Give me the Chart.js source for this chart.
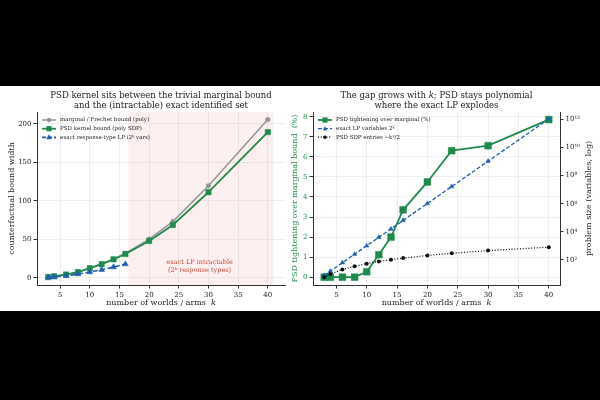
<!DOCTYPE html>
<html>
<head>
<meta charset="utf-8">
<script src="https://cdn.jsdelivr.net/npm/chart.js@4.4.1/dist/chart.umd.min.js"></script>
<style>
  html, body { margin: 0; padding: 0; background: #000; }
  #page { position: relative; width: 600px; height: 400px; background: #000; overflow: hidden; }
  #sheet { position: absolute; left: 0; top: 86px; width: 600px; height: 225px; background: #fff; }
  canvas { position: absolute; left: 0; top: 0; }
</style>
</head>
<body>
<div id="page">
  <div id="sheet"></div>
  <canvas id="left" width="600" height="400"></canvas>
  <canvas id="right" width="600" height="400"></canvas>
</div>
<script>
const SERIF = "'DejaVu Serif', 'Liberation Serif', serif";
const INK = "#222222";
const GREEN = "#1f8a4c";
const BLUE = "#1f5fae";
const GREY = "#959595";
const SPINE = "#333333";
const GRID = "#ebebeb";
const NOTE = "#c8463c";

// data
const kValues = [3, 4, 6, 8, 10, 12, 14, 16, 20, 24, 30, 40];
const marginalWidth = [1, 2, 4.3, 7.4, 12.6, 17.9, 24.5, 31.8, 50.2, 73, 119.5, 205.5];
const psdWidth = [1, 2, 4.3, 7.4, 12.5, 17.7, 24, 30.9, 47.9, 68.6, 111.2, 189.2];
const exactK = [3, 4, 6, 8, 10, 12, 14, 16];
const exactWidth = [0.6, 1.2, 2.6, 5, 7.4, 10.4, 13.9, 17.8];

const tightening = [0, 0, 0, 0, 0.27, 1.12, 2.0, 3.36, 4.75, 6.31, 6.56, 7.86];
const lpVariables = [8, 16, 64, 256, 1024, 4096, 16384, 65536, 1048576, 16777216, 1073741824, 1099511627776];
const sdpEntries = [6, 10, 21, 36, 55, 78, 105, 136, 210, 300, 465, 820];

const xTicks = [5, 10, 15, 20, 25, 30, 35, 40];
const widthTicks = [0, 50, 100, 150, 200];
const pctTicks = [0, 1, 2, 3, 4, 5, 6, 7, 8];
const sizeTicks = [1e2, 1e4, 1e6, 1e8, 1e10, 1e12];
const sizeTickLabels = ["10\u00b2", "10\u2074", "10\u2076", "10\u2078", "10\u00b9\u2070", "10\u00b9\u00b2"];
const intractableSpan = [16.5, 41];

function pts(xs, ys) {
  return xs.map((x, i) => ({ x: x, y: ys[i] }));
}

function fixTicks(list) {
  return function (scale) {
    scale.ticks = list.map((v) => ({ value: v }));
  };
}

function axisStyle(color) {
  return {
    border: { display: true, color: SPINE, width: 1 },
    grid: { color: GRID, lineWidth: 0.8, drawTicks: true, tickLength: 3.5, tickColor: SPINE, tickWidth: 1 },
    ticks: { color: color, font: { family: SERIF, size: 7 }, padding: 2, maxRotation: 0, autoSkip: false },
  };
}

// text with italic pieces, centred on (cx, cy)
function drawRich(ctx, parts, cx, cy, size, color, angle) {
  ctx.save();
  ctx.translate(cx, cy);
  if (angle) ctx.rotate(angle);
  ctx.fillStyle = color;
  ctx.textBaseline = "middle";
  ctx.textAlign = "left";
  let total = 0;
  parts.forEach((p) => {
    ctx.font = (p[1] ? "italic " : "") + size + "px " + SERIF;
    total += ctx.measureText(p[0]).width;
  });
  let x = -total / 2;
  parts.forEach((p) => {
    ctx.font = (p[1] ? "italic " : "") + size + "px " + SERIF;
    ctx.fillText(p[0], x, 0);
    x += ctx.measureText(p[0]).width;
  });
  ctx.restore();
}

function drawMarker(ctx, kind, x, y, r, color) {
  ctx.save();
  ctx.fillStyle = color;
  ctx.beginPath();
  if (kind === "circle") {
    ctx.arc(x, y, r, 0, Math.PI * 2);
  } else if (kind === "rect") {
    ctx.rect(x - r, y - r, 2 * r, 2 * r);
  } else {
    ctx.moveTo(x, y - r * 1.15);
    ctx.lineTo(x + r, y + r * 0.7);
    ctx.lineTo(x - r, y + r * 0.7);
    ctx.closePath();
  }
  ctx.fill();
  ctx.restore();
}

function drawLegend(ctx, x0, y0, rowH, entries) {
  entries.forEach((e, i) => {
    const y = y0 + i * rowH;
    ctx.save();
    ctx.strokeStyle = e.color;
    ctx.lineWidth = e.width;
    ctx.setLineDash(e.dash || []);
    ctx.beginPath();
    ctx.moveTo(x0, y);
    ctx.lineTo(x0 + 14, y);
    ctx.stroke();
    ctx.restore();
    drawMarker(ctx, e.marker, x0 + 7, y, e.r, e.color);
    ctx.save();
    ctx.fillStyle = INK;
    ctx.font = "5.5px " + SERIF;
    ctx.textBaseline = "middle";
    ctx.fillText(e.text, x0 + 18, y);
    ctx.restore();
  });
}

// left panel: shading, title, legend, labels
const leftDeco = {
  id: "leftDeco",
  beforeDatasetsDraw(chart) {
    const { ctx, chartArea, scales } = chart;
    const x1 = scales.x.getPixelForValue(intractableSpan[0]);
    const x2 = scales.x.getPixelForValue(intractableSpan[1]);
    ctx.save();
    ctx.fillStyle = "rgba(215, 120, 110, 0.11)";
    ctx.fillRect(x1, chartArea.top, x2 - x1, chartArea.bottom - chartArea.top);
    ctx.restore();
  },
  afterDraw(chart) {
    const { ctx, chartArea, scales } = chart;
    const cx = (chartArea.left + chartArea.right) / 2;
    drawRich(ctx, [["PSD kernel sits between the trivial marginal bound", false]], cx, 95.5, 8.5, INK);
    drawRich(ctx, [["and the (intractable) exact identified set", false]], cx, 105.5, 8.5, INK);
    drawRich(ctx, [["number of worlds / arms  ", false], ["k", true]], cx, 303, 8, INK);
    drawRich(ctx, [["counterfactual bound width", false]], 12, (chartArea.top + chartArea.bottom) / 2, 8, INK, -Math.PI / 2);

    const nx = scales.x.getPixelForValue(28.5);
    drawRich(ctx, [["exact LP intractable", false]], nx, 262, 6.5, NOTE);
    drawRich(ctx, [["(2\u1d4f response types)", false]], nx, 270, 6.5, NOTE);

    drawLegend(ctx, 42, 120, 8.7, [
      { text: "marginal / Frechet bound (poly)", color: GREY, width: 1.5, marker: "circle", r: 2.2 },
      { text: "PSD kernel bound (poly SDP)", color: GREEN, width: 1.8, marker: "rect", r: 2.6 },
      { text: "exact response-type LP (2\u1d4f vars)", color: BLUE, width: 1.6, dash: [4, 2], marker: "triangle", r: 2.8 },
    ]);
  },
};

// right panel: title, legend, labels
const rightDeco = {
  id: "rightDeco",
  afterDraw(chart) {
    const { ctx, chartArea } = chart;
    const cx = (chartArea.left + chartArea.right) / 2;
    const cy = (chartArea.top + chartArea.bottom) / 2;
    drawRich(ctx, [["The gap grows with ", false], ["k", true], ["; PSD stays polynomial", false]], cx, 95.5, 8.5, INK);
    drawRich(ctx, [["where the exact LP explodes", false]], cx, 105.5, 8.5, INK);
    drawRich(ctx, [["number of worlds / arms  ", false], ["k", true]], cx, 303, 8, INK);
    drawRich(ctx, [["PSD tightening over marginal bound  (%)", false]], 295, cy, 8, GREEN, -Math.PI / 2);
    drawRich(ctx, [["problem size (variables, log)", false]], 589, cy, 8, INK, -Math.PI / 2);

    drawLegend(ctx, 318, 120, 8.6, [
      { text: "PSD tightening over marginal (%)", color: GREEN, width: 1.8, marker: "rect", r: 2.6 },
      { text: "exact LP variables 2\u1d4f", color: BLUE, width: 1.3, dash: [4, 2], marker: "triangle", r: 2.2 },
      { text: "PSD SDP entries \u223ck\u00b2/2", color: "#111111", width: 1.3, dash: [1, 1.8], marker: "circle", r: 1.8 },
    ]);
  },
};

new Chart(document.getElementById("left"), {
  type: "line",
  data: {
    datasets: [
      { label: "exact response-type LP (2\u1d4f vars)", data: pts(exactK, exactWidth), borderColor: BLUE, backgroundColor: BLUE,
        borderWidth: 1.6, borderDash: [5, 2.5], pointStyle: "triangle", pointRadius: 3.4, pointBorderWidth: 0.5, order: 0 },
      { label: "PSD kernel bound (poly SDP)", data: pts(kValues, psdWidth), borderColor: GREEN, backgroundColor: GREEN,
        borderWidth: 1.8, pointStyle: "rect", pointRadius: 3.8, pointBorderWidth: 0.5, order: 1 },
      { label: "marginal / Frechet bound (poly)", data: pts(kValues, marginalWidth), borderColor: GREY, backgroundColor: GREY,
        borderWidth: 1.5, pointStyle: "circle", pointRadius: 2.3, pointBorderWidth: 0.5, order: 2 },
    ],
  },
  options: {
    responsive: false,
    animation: false,
    devicePixelRatio: 1,
    layout: { padding: { left: 0, top: 112, right: 315, bottom: 95 } },
    plugins: { legend: { display: false }, tooltip: { enabled: false } },
    scales: {
      x: Object.assign(axisStyle(INK), {
        type: "linear", min: 1.1, max: 42.9,
        afterBuildTicks: fixTicks(xTicks),
        afterFit: (s) => { s.height = 20; },
      }),
      y: Object.assign(axisStyle(INK), {
        type: "linear", min: -9.3, max: 215.3,
        afterBuildTicks: fixTicks(widthTicks),
        afterFit: (s) => { s.width = 37; },
      }),
    },
  },
  plugins: [leftDeco],
});

const sizeAxis = axisStyle(INK);
sizeAxis.grid.drawOnChartArea = false;

new Chart(document.getElementById("right"), {
  type: "line",
  data: {
    datasets: [
      { label: "PSD SDP entries", data: pts(kValues, sdpEntries), yAxisID: "y2", borderColor: "#111111", backgroundColor: "#111111",
        borderWidth: 1.3, borderDash: [1, 1.8], pointStyle: "circle", pointRadius: 2, pointBorderWidth: 0, order: 0 },
      { label: "exact LP variables", data: pts(kValues, lpVariables), yAxisID: "y2", borderColor: BLUE, backgroundColor: BLUE,
        borderWidth: 1.3, borderDash: [4, 2], pointStyle: "triangle", pointRadius: 2.6, pointBorderWidth: 0.5, order: 1 },
      { label: "PSD tightening over marginal (%)", data: pts(kValues, tightening), yAxisID: "y", borderColor: GREEN, backgroundColor: GREEN,
        borderWidth: 1.8, pointStyle: "rect", pointRadius: 4.8, pointBorderWidth: 0.5, order: 2 },
    ],
  },
  options: {
    responsive: false,
    animation: false,
    devicePixelRatio: 1,
    layout: { padding: { left: 290, top: 112, right: 0, bottom: 95 } },
    plugins: { legend: { display: false }, tooltip: { enabled: false } },
    scales: {
      x: Object.assign(axisStyle(INK), {
        type: "linear", min: 1.15, max: 41.85,
        afterBuildTicks: fixTicks(xTicks),
        afterFit: (s) => { s.height = 20; },
      }),
      y: Object.assign(axisStyle(GREEN), {
        type: "linear", position: "left", min: -0.39, max: 8.24,
        afterBuildTicks: fixTicks(pctTicks),
        afterFit: (s) => { s.width = 23; },
      }),
      y2: Object.assign(sizeAxis, {
        type: "logarithmic", position: "right", min: 1.66, max: 3.4e12,
        afterBuildTicks: fixTicks(sizeTicks),
        afterFit: (s) => { s.width = 40; },
        ticks: Object.assign(sizeAxis.ticks, {
          callback: (v) => sizeTickLabels[sizeTicks.indexOf(v)],
        }),
      }),
    },
  },
  plugins: [rightDeco],
});
</script>
</body>
</html>
